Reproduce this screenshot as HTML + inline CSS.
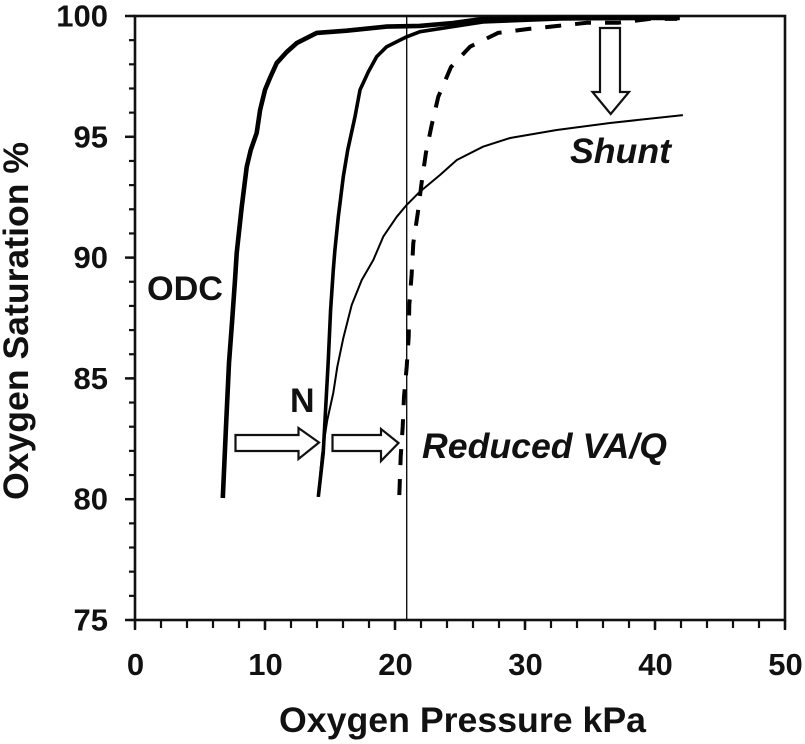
<!DOCTYPE html>
<html>
<head>
<meta charset="utf-8">
<title>Oxygen dissociation chart</title>
<style>
html,body{margin:0;padding:0;background:#fff;width:805px;height:744px;overflow:hidden}
svg{display:block}
text{font-family:"Liberation Sans",sans-serif;font-weight:bold;fill:#111}
</style>
</head>
<body>
<svg id="chart" width="805" height="744" viewBox="0 0 805 744" xmlns="http://www.w3.org/2000/svg">
  <text transform="translate(28,500) rotate(-90)" font-size="35" textLength="358" lengthAdjust="spacingAndGlyphs">Oxygen Saturation %</text>
  <text x="279" y="732" font-size="35" textLength="367" lengthAdjust="spacingAndGlyphs">Oxygen Pressure kPa</text>
  <text x="147" y="300" font-size="34" textLength="76" lengthAdjust="spacingAndGlyphs">ODC</text>
  <text x="290" y="412" font-size="34">N</text>
  <text x="422" y="458" font-size="35" font-style="italic" textLength="245" lengthAdjust="spacingAndGlyphs">Reduced VA/Q</text>
  <text x="570" y="163" font-size="35.5" font-style="italic" textLength="101" lengthAdjust="spacingAndGlyphs">Shunt</text>
  <g id="marks"></g>
  <polygon points="235.5,435 298.5,435 298.5,428 319,442.5 298.5,459 298.5,451 235.5,451" fill="#fff" stroke="#111" stroke-width="2.2"/>
  <polygon points="332.5,435 381,435 381,429 398.5,443 381,461 381,451 332.5,451" fill="#fff" stroke="#111" stroke-width="2.2"/>
  <polygon points="600,28 620,28 620,92 629,92 610.7,114 592.5,92 600,92" fill="#fff" stroke="#111" stroke-width="2.2"/>
</svg>
<script>
const xTicks = [0, 10, 20, 30, 40, 50];
const yTicks = [75, 80, 85, 90, 95, 100];
const xMinorStep = 2;
const yMinorStep = 1;
const referencePressure = 20.9;

const odcX = [6.75, 7.0, 7.23, 7.48, 7.69, 7.82, 8.21, 8.59, 8.9, 9.36, 9.62, 10, 10.38, 10.9, 11.67, 12.44, 13.98, 16.28, 19.36, 21.9, 24.46, 26.77, 32.7, 41.9];
const odcY = [80.05, 83, 85.64, 87.42, 89.07, 90.19, 92.09, 93.75, 94.45, 95.16, 96.11, 96.94, 97.43, 98.05, 98.51, 98.88, 99.3, 99.39, 99.56, 99.59, 99.71, 99.88, 99.92, 99.92];

const normalX = [14.1, 14.48, 14.87, 15.05, 15.25, 15.38, 15.64, 16.02, 16.36, 16.92, 17.31, 17.95, 18.59, 19.36, 20.9, 21.92, 24.46, 26.77, 32.7, 41.9];
const normalY = [80.1, 81.91, 85.76, 87.83, 89.49, 90.31, 91.69, 93.35, 94.45, 95.83, 96.94, 97.69, 98.32, 98.73, 99.14, 99.35, 99.56, 99.75, 99.88, 99.92];

const reducedX = [20.33, 20.44, 20.59, 20.69, 20.9, 21.05, 21.1, 21.28, 21.41, 21.75, 22.05, 22.38, 22.82, 23.33, 24.31, 25.77, 27.92, 30.23, 32.54, 34.77, 37.15, 39.6, 41.7];
const reducedY = [80.17, 81.76, 83, 84.24, 85.48, 86.73, 88.04, 89.28, 90.6, 91.85, 93.09, 94.33, 95.49, 96.66, 97.89, 98.73, 99.3, 99.46, 99.59, 99.72, 99.72, 99.88, 99.88];

const shuntX = [14.08, 14.38, 14.79, 15.25, 15.56, 16.02, 16.67, 17.44, 18.33, 19.1, 20.13, 20.9, 21.92, 23.46, 24.75, 26.77, 28.85, 32.44, 36.54, 42.15];
const shuntY = [80.09, 81.83, 83.28, 84.4, 85.48, 86.67, 88.04, 89.07, 89.9, 90.87, 91.69, 92.18, 92.73, 93.42, 94.04, 94.59, 94.95, 95.28, 95.57, 95.9];

const NS = 'http://www.w3.org/2000/svg';
const plotLeft = 135, plotRight = 785, plotTop = 16, plotBottom = 620;
const xMin = xTicks[0], xMax = xTicks[xTicks.length - 1];
const yMin = yTicks[0], yMax = yTicks[yTicks.length - 1];
function sx(v) { return plotLeft + (v - xMin) / (xMax - xMin) * (plotRight - plotLeft); }
function sy(v) { return plotBottom - (v - yMin) / (yMax - yMin) * (plotBottom - plotTop); }

const marks = document.getElementById('marks');

function drawLine(x1, y1, x2, y2, w) {
  const el = document.createElementNS(NS, 'line');
  el.setAttribute('x1', x1);
  el.setAttribute('y1', y1);
  el.setAttribute('x2', x2);
  el.setAttribute('y2', y2);
  el.setAttribute('stroke', '#111');
  el.setAttribute('stroke-width', w);
  marks.appendChild(el);
  return el;
}

function drawLabel(x, y, str, anchor) {
  const el = document.createElementNS(NS, 'text');
  el.setAttribute('x', x);
  el.setAttribute('y', y);
  el.setAttribute('font-size', '31');
  el.setAttribute('text-anchor', anchor);
  el.textContent = str;
  marks.appendChild(el);
  return el;
}

function drawCurve(xs, ys, w, dash) {
  const el = document.createElementNS(NS, 'polyline');
  el.setAttribute('points', xs.map((v, i) => sx(v).toFixed(1) + ',' + sy(ys[i]).toFixed(1)).join(' '));
  el.setAttribute('fill', 'none');
  el.setAttribute('stroke', '#000');
  el.setAttribute('stroke-width', w);
  el.setAttribute('stroke-linejoin', 'round');
  if (dash) el.setAttribute('stroke-dasharray', dash);
  marks.appendChild(el);
  return el;
}

for (let v = xMin; v <= xMax; v += xMinorStep) {
  const tick = drawLine(sx(v), plotBottom, sx(v), plotBottom + 8, 2.2);
  
  
}
for (const v of xTicks) {
  const tick = drawLine(sx(v), plotBottom, sx(v), plotBottom + 10, 2.5);
  
  
  const text = drawLabel(sx(v) + 0.5, 675, String(v), 'middle');
  
  
}
for (let v = yMin; v <= yMax; v += yMinorStep) {
  const tick = drawLine(plotLeft - 6, sy(v), plotLeft, sy(v), 2.2);
  
  
}
for (const v of yTicks) {
  const tick = drawLine(plotLeft - 10, sy(v), plotLeft, sy(v), 2.5);
  
  
  const text = drawLabel(108, sy(v) + 10.5, String(v), 'end');
  
  
}

const plotFrame = document.createElementNS(NS, 'rect');
plotFrame.setAttribute('x', plotLeft);
plotFrame.setAttribute('y', plotTop);
plotFrame.setAttribute('width', plotRight - plotLeft);
plotFrame.setAttribute('height', plotBottom - plotTop);
plotFrame.setAttribute('fill', 'none');
plotFrame.setAttribute('stroke', '#111');
plotFrame.setAttribute('stroke-width', '2.6');


marks.appendChild(plotFrame);

const refLine = drawLine(sx(referencePressure), plotTop, sx(referencePressure), plotBottom, 1.4);



const odcCurve = drawCurve(odcX, odcY, 4.6);



const normalCurve = drawCurve(normalX, normalY, 3.6);



const reducedCurve = drawCurve(reducedX, reducedY, 4, '16 14');



const shuntCurve = drawCurve(shuntX, shuntY, 2);


</script>
</body>
</html>
